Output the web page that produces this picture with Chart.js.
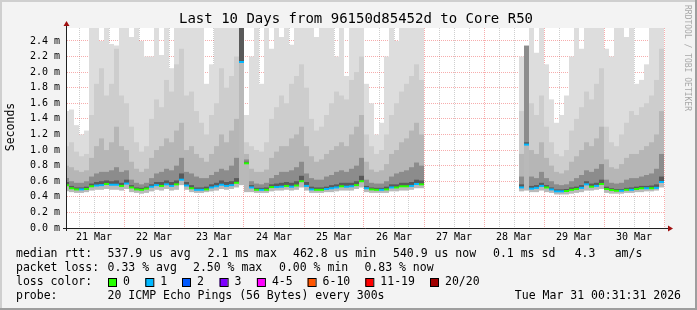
<!DOCTYPE html>
<html>
<head>
<meta charset="utf-8">
<title>Smokeping 96150d85452d to Core R50</title>
<script src="https://cdn.jsdelivr.net/npm/chart.js@4.4.1/dist/chart.umd.min.js"></script>
<style>
  html, body { margin: 0; padding: 0; background: #f3f3f3; }
  canvas { display: block; }
</style>
</head>
<body>
<canvas id="myChart" width="697" height="310"></canvas>
<script>
// hours since Mar 21 00:00, one value per 2 h step (bin centre)
const _ = null;
const hours = Array.from({ length: 120 }, (v, i) => 1 + 2 * i);

// median rtt in ms
const median = [
  0.55,0.51,0.495,0.495,0.50,0.535,0.545,0.55,0.565,0.555,0.555,0.54,0.57,0.52,0.495,0.49,0.505,0.53,0.55,0.54,0.56,0.54,0.56,0.62,0.545,
  0.51,0.49,0.49,0.495,0.52,0.535,0.555,0.54,0.55,0.58,2.13,0.83,0.52,0.49,0.49,0.49,0.525,0.525,0.53,0.54,0.53,0.545,0.60,
  0.54,0.495,0.49,0.49,0.50,0.51,0.52,0.535,0.53,0.535,0.55,0.60,0.51,0.495,0.49,0.49,0.495,0.52,0.52,0.535,0.535,0.54,0.565,0.56,
  _,_,_,_,_,_,_,_,_,_,_,_,_,_,_,_,_,_,_,
  0.52,1.07,0.505,0.515,0.54,0.52,0.495,0.47,0.47,0.475,0.49,0.50,0.515,0.56,0.53,0.54,0.565,0.50,0.487,0.478,0.478,0.49,0.49,0.50,0.51,0.51,0.51,0.515,0.59
];
// lost pings per step (0 = green, 1 = blue)
const loss = [
  0,0,0,1,0,0,1,1,0,1,1,0,1,0,0,0,0,1,1,0,1,1,0,1,1,
  0,1,1,0,1,1,1,1,1,0,1,0,1,0,1,0,0,1,1,0,1,0,0,
  1,1,0,0,1,1,1,0,1,1,0,0,1,0,0,1,0,1,0,0,0,1,1,0,
  _,_,_,_,_,_,_,_,_,_,_,_,_,_,_,_,_,_,_,
  1,1,1,1,1,0,1,1,1,0,0,0,1,1,0,1,0,0,0,0,1,0,1,0,0,1,0,1,1
];
// smoke: fastest ping and the tops of the grey bands, darkest (E) to lightest (A), in ms
const lowest = [
  0.47,0.46,0.45,0.45,0.46,0.48,0.49,0.49,0.50,0.49,0.49,0.48,0.50,0.46,0.45,0.44,0.45,0.47,0.49,0.48,0.50,0.48,0.49,0.55,0.49,
  0.46,0.45,0.45,0.46,0.47,0.48,0.50,0.49,0.50,0.52,0.55,0.46,0.46,0.45,0.45,0.45,0.47,0.48,0.48,0.49,0.48,0.49,0.52,
  0.48,0.45,0.45,0.45,0.46,0.46,0.47,0.48,0.48,0.48,0.50,0.52,0.46,0.45,0.45,0.45,0.45,0.47,0.47,0.48,0.48,0.49,0.51,0.51,
  _,_,_,_,_,_,_,_,_,_,_,_,_,_,_,_,_,_,_,
  0.47,0.48,0.46,0.46,0.48,0.46,0.45,0.43,0.43,0.43,0.44,0.45,0.46,0.48,0.48,0.49,0.50,0.45,0.44,0.44,0.44,0.45,0.45,0.46,0.46,0.47,0.47,0.48,0.52
];
const topE = [
  0.59,0.54,0.52,0.52,0.53,0.57,0.59,0.60,0.61,0.60,0.61,0.58,0.62,0.55,0.52,0.515,0.53,0.56,0.59,0.59,0.61,0.59,0.61,0.70,0.59,
  0.55,0.52,0.52,0.53,0.56,0.58,0.61,0.59,0.60,0.64,2.57,0.85,0.55,0.515,0.515,0.52,0.56,0.57,0.58,0.59,0.58,0.60,0.67,
  0.59,0.53,0.52,0.52,0.53,0.55,0.56,0.58,0.58,0.58,0.60,0.67,0.54,0.52,0.515,0.515,0.53,0.56,0.56,0.58,0.58,0.59,0.62,0.61,
  _,_,_,_,_,_,_,_,_,_,_,_,_,_,_,_,_,_,_,
  0.56,1.10,0.54,0.55,0.58,0.55,0.52,0.495,0.495,0.50,0.52,0.53,0.55,0.60,0.57,0.58,0.62,0.53,0.51,0.50,0.50,0.515,0.52,0.53,0.54,0.54,0.545,0.56,0.66
];
const topD = [
  0.64,0.60,0.58,0.58,0.60,0.66,0.70,0.72,0.72,0.74,0.78,0.72,0.74,0.62,0.58,0.56,0.58,0.64,0.70,0.72,0.76,0.74,0.80,0.90,0.72,
  0.70,0.66,0.64,0.64,0.68,0.72,0.76,0.74,0.80,0.90,2.57,0.88,0.60,0.57,0.56,0.58,0.64,0.68,0.72,0.72,0.74,0.78,0.85,
  0.70,0.64,0.62,0.62,0.66,0.68,0.72,0.74,0.72,0.76,0.80,0.90,0.62,0.58,0.57,0.57,0.60,0.66,0.70,0.72,0.74,0.78,0.84,0.80,
  _,_,_,_,_,_,_,_,_,_,_,_,_,_,_,_,_,_,_,
  0.66,2.34,0.66,0.64,0.72,0.64,0.60,0.56,0.55,0.56,0.60,0.64,0.68,0.74,0.72,0.76,0.82,0.62,0.58,0.57,0.58,0.62,0.64,0.64,0.66,0.68,0.70,0.76,0.95
];
const topC = [
  0.80,0.78,0.74,0.72,0.74,0.90,1.05,1.15,1.00,1.10,1.30,1.05,1.00,0.85,0.76,0.72,0.76,0.90,1.00,1.05,1.15,1.10,1.25,1.35,1.00,
  1.05,0.95,0.90,0.85,0.95,1.05,1.20,1.10,1.25,1.40,2.57,0.95,0.76,0.72,0.72,0.75,0.90,0.98,1.05,1.05,1.15,1.20,1.30,
  1.05,0.92,0.85,0.88,0.95,1.00,1.05,1.10,1.05,1.20,1.30,1.45,0.85,0.75,0.72,0.74,0.82,0.95,1.00,1.10,1.15,1.25,1.35,1.20,
  _,_,_,_,_,_,_,_,_,_,_,_,_,_,_,_,_,_,_,
  0.95,1.30,1.00,0.95,1.10,0.90,0.80,0.72,0.70,0.74,0.85,0.92,1.00,1.10,1.05,1.15,1.30,0.88,0.78,0.76,0.82,0.90,0.95,0.95,1.00,1.05,1.10,1.20,1.50
];
const topB = [
  1.05,1.10,0.98,0.92,0.95,1.45,1.85,2.05,1.70,1.85,2.30,1.70,1.60,1.30,1.10,0.98,1.05,1.40,1.65,1.55,1.90,1.75,2.10,2.30,1.70,
  1.75,1.50,1.35,1.20,1.45,1.60,2.05,1.80,1.95,2.20,2.57,1.10,1.05,1.00,0.98,1.10,1.40,1.55,1.70,1.60,1.85,1.95,2.10,
  1.80,1.40,1.25,1.30,1.45,1.60,1.75,1.70,1.65,1.90,2.00,2.20,1.20,1.05,0.95,1.00,1.20,1.45,1.60,1.75,1.85,1.95,2.10,1.90,
  _,_,_,_,_,_,_,_,_,_,_,_,_,_,_,_,_,_,_,
  1.50,1.80,1.60,1.45,1.70,1.30,1.10,0.95,0.92,1.00,1.25,1.40,1.55,1.75,1.65,1.85,2.05,1.30,1.10,1.05,1.20,1.35,1.50,1.45,1.55,1.60,1.70,1.90,2.30
];
const topA = [
  1.50,1.52,1.32,1.20,1.25,2.57,2.57,2.40,2.57,2.36,2.34,2.57,2.57,2.45,2.57,2.40,2.20,2.20,2.57,2.22,2.57,2.05,2.57,2.57,2.57,
  2.57,2.57,2.57,1.85,2.10,2.57,2.57,2.57,2.57,2.57,2.57,1.45,2.20,2.57,1.85,2.57,2.30,2.57,2.45,2.57,2.35,2.57,2.57,
  2.57,2.57,2.45,2.57,2.57,2.57,2.20,2.57,1.95,2.57,2.57,2.57,1.85,1.60,1.20,1.35,2.20,2.57,2.40,2.57,2.57,2.57,2.57,2.57,
  _,_,_,_,_,_,_,_,_,_,_,_,_,_,_,_,_,_,_,
  2.20,2.34,2.57,2.25,2.57,2.10,1.65,1.35,1.45,1.70,2.20,2.57,2.30,2.57,2.57,2.57,2.57,2.30,2.20,2.57,2.57,2.45,2.57,1.85,1.90,2.10,2.57,2.57,2.57
];

// axes
const xGridHours = [6,12,18,24,30,36,42,48,54,60,66,72,78,84,90,96,102,108,114,120,126,132,138,144,
  150,156,162,168,174,180,186,192,198,204,210,216,222,228,234,240];
const dayLabels = ["21 Mar","22 Mar","23 Mar","24 Mar","25 Mar","26 Mar","27 Mar","28 Mar","29 Mar","30 Mar"];
const yGridMs = [0,0.1,0.2,0.3,0.4,0.5,0.6,0.7,0.8,0.9,1.0,1.1,1.2,1.3,1.4,1.5,1.6,1.7,1.8,1.9,2.0,2.1,2.2,2.3,2.4,2.5];

const lossNames = ["0","1","2","3","4-5","6-10","11-19","20/20"];
const lossColors = ["#26ff00","#00b8ff","#0059ff","#7e00ff","#ff00ff","#ff5500","#ff0000","#a00000"];

const MONO = '"DejaVu Sans Mono", "Liberation Mono", monospace';
const MAJOR = "rgba(235,60,60,0.42)";
const MINOR = "rgba(140,140,140,0.42)";

function band(bottom, top) {
  const out = [];
  hours.forEach((h, i) => {
    if (bottom[i] !== null && top[i] !== null) out.push({ x: h, y: [bottom[i], top[i]] });
  });
  return out;
}

function smoke(label, data, color) {
  return {
    type: "bar", label, data,
    backgroundColor: color, borderWidth: 0,
    grouped: false, barPercentage: 1, categoryPercentage: 1,
    inflateAmount: 0, clip: 0
  };
}

const frame = {
  id: "frame",
  beforeDraw(chart) {
    const ctx = chart.ctx, a = chart.chartArea;
    ctx.save();
    ctx.fillStyle = "#f3f3f3";
    ctx.fillRect(0, 0, chart.width, chart.height);
    ctx.fillStyle = "#cfcfcf";
    ctx.fillRect(0, 0, chart.width, 2);
    ctx.fillRect(0, 0, 2, chart.height);
    ctx.fillStyle = "#9e9e9e";
    ctx.fillRect(0, chart.height - 2, chart.width, 2);
    ctx.fillRect(chart.width - 2, 0, 2, chart.height);
    ctx.fillStyle = "#ffffff";
    ctx.fillRect(a.left, a.top, a.right - a.left, a.bottom - a.top);
    ctx.restore();
  },
  afterDraw(chart) {
    const ctx = chart.ctx, a = chart.chartArea;
    ctx.save();
    // axes and arrows
    ctx.strokeStyle = "#202020";
    ctx.lineWidth = 1;
    ctx.beginPath();
    ctx.moveTo(a.left - 0.5, a.bottom + 3);
    ctx.lineTo(a.left - 0.5, a.top - 4);
    ctx.moveTo(a.left - 4, a.bottom + 0.5);
    ctx.lineTo(a.right + 3, a.bottom + 0.5);
    ctx.stroke();
    ctx.fillStyle = "#a01010";
    ctx.beginPath();
    ctx.moveTo(a.left - 0.5, a.top - 7);
    ctx.lineTo(a.left - 3.5, a.top - 2);
    ctx.lineTo(a.left + 2.5, a.top - 2);
    ctx.closePath();
    ctx.fill();
    ctx.beginPath();
    ctx.moveTo(a.right + 8, a.bottom + 0.5);
    ctx.lineTo(a.right + 3, a.bottom - 2.5);
    ctx.lineTo(a.right + 3, a.bottom + 3.5);
    ctx.closePath();
    ctx.fill();

    ctx.fillStyle = "#000";
    ctx.textBaseline = "middle";
    ctx.font = "14px " + MONO;
    ctx.textAlign = "center";
    ctx.fillText("Last 10 Days from 96150d85452d to Core R50", 356, 19);

    ctx.font = "11.5px " + MONO;
    ctx.save();
    ctx.translate(11, 127);
    ctx.rotate(-Math.PI / 2);
    ctx.fillText("Seconds", 0, 0);
    ctx.restore();

    ctx.save();
    ctx.font = "8px " + MONO;
    ctx.fillStyle = "#a8a8a8";
    ctx.translate(687, 5);
    ctx.rotate(Math.PI / 2);
    ctx.textAlign = "left";
    ctx.fillText("RRDTOOL / TOBI OETIKER", 0, 0);
    ctx.restore();

    // legend
    ctx.textAlign = "left";
    const rows = [
      [254.5, [["median rtt:", 16], ["537.9 us avg", 107.6], ["2.1 ms max", 207.6], ["462.8 us min", 293],
               ["540.9 us now", 393], ["0.1 ms sd", 493], ["4.3", 574.7], ["am/s", 614.7]]],
      [268.5, [["packet loss:", 16], ["0.33 % avg", 107.6], ["2.50 % max", 193], ["0.00 % min", 279],
               ["0.83 % now", 364.4]]],
      [282.5, [["loss color:", 16]]],
      [296.5, [["probe:", 16], ["20 ICMP Echo Pings (56 Bytes) every 300s", 107.6]]]
    ];
    rows.forEach(([y, items]) => items.forEach(([s, x]) => ctx.fillText(s, x, y)));
    ctx.textAlign = "right";
    ctx.fillText("Tue Mar 31 00:31:31 2026", 681, 296.5);

    ctx.textAlign = "left";
    const boxX = [108, 145.3, 182, 219.6, 256.9, 307.6, 365.3, 430];
    lossNames.forEach((n, i) => {
      ctx.fillStyle = lossColors[i];
      ctx.fillRect(boxX[i], 278, 8, 8);
      ctx.strokeStyle = "#000";
      ctx.strokeRect(boxX[i] + 0.5, 278.5, 8, 8);
      ctx.fillStyle = "#000";
      ctx.fillText(n, boxX[i] + 15, 282.5);
    });
    ctx.restore();
  }
};

const ctx = document.getElementById("myChart").getContext("2d");

new Chart(ctx, {
  data: {
    datasets: [
      {
        type: "line",
        label: "median rtt",
        data: hours.map((h, i) => ({ x: h, y: median[i] })),
        showLine: false,
        pointStyle: "line",
        pointRadius: 2.5,
        pointBorderWidth: 2,
        pointBorderColor: loss.map(l => l === null ? "transparent" : lossColors[l]),
        pointBackgroundColor: loss.map(l => l === null ? "transparent" : lossColors[l])
      },
      smoke("band E", band(median, topE), "#5a5a5a"),
      smoke("below median", band(lowest, median), "#b9b9b9"),
      smoke("band D", band(median, topD), "#8c8c8c"),
      smoke("band C", band(median, topC), "#b6b6b6"),
      smoke("band B", band(median, topB), "#cdcdcd"),
      smoke("band A", band(median, topA), "#dddddd")
    ]
  },
  options: {
    responsive: false,
    animation: false,
    devicePixelRatio: 1,
    events: [],
    layout: { padding: { left: 0, right: 32, top: 28, bottom: 0 } },
    plugins: { legend: { display: false }, tooltip: { enabled: false }, title: { display: false } },
    scales: {
      x: {
        type: "linear", min: 1.2, max: 240.4, offset: false, z: 1,
        afterBuildTicks: s => { s.ticks = xGridHours.map(v => ({ value: v })); },
        afterFit: s => { s.height = 82; },
        grid: { offset: false, drawTicks: false, color: c => (c.tick && c.tick.value % 24 === 0) ? MAJOR : MINOR },
        border: { display: false, dash: [1, 1] },
        ticks: {
          autoSkip: false, maxRotation: 0, padding: 3, color: "#000",
          font: { family: MONO, size: 10 },
          callback: v => (v % 24 === 12) ? dayLabels[(v - 12) / 24] : ""
        }
      },
      y: {
        type: "linear", min: 0, max: 2.566, z: 1,
        afterBuildTicks: s => { s.ticks = yGridMs.map(v => ({ value: v })); },
        afterFit: s => { s.width = 67; },
        grid: { drawTicks: false, color: c => (c.tick && Math.round(c.tick.value * 10) % 2 === 0) ? MAJOR : MINOR },
        border: { display: false, dash: [1, 1] },
        ticks: {
          padding: 7, color: "#000",
          font: { family: MONO, size: 10 },
          callback: v => (Math.round(v * 10) % 2 === 0) ? v.toFixed(1) + " m" : ""
        }
      }
    }
  },
  plugins: [frame]
});
</script>
</body>
</html>
